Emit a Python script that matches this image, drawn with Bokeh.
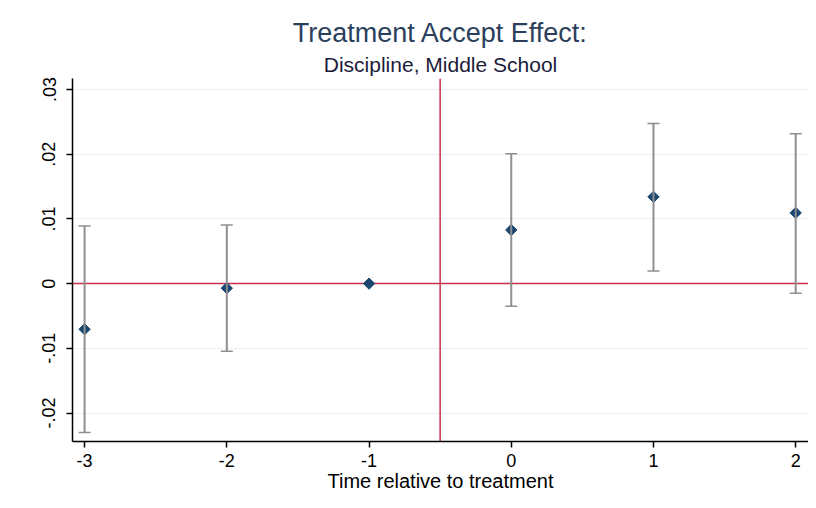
import math
from bokeh.plotting import figure
from bokeh.models import ColumnDataSource, Whisker, TeeHead, Span, Title, FixedTicker, Range1d
from bokeh.embed import file_html
from bokeh.resources import INLINE

# ---- data ----
periods = [-3, -2, -1, 0, 1, 2]
coef = [-0.00705, -0.0007, 0.0, 0.00829, 0.01341, 0.01093]
ci_lo = [-0.0230, -0.01047, None, -0.00349, 0.00194, -0.00147]
ci_hi = [0.00891, 0.00907, None, 0.02008, 0.02473, 0.02318]
y_ticks = [-0.02, -0.01, 0.0, 0.01, 0.02, 0.03]
y_tick_labels = ["-.02", "-.01", "0", ".01", ".02", ".03"]
x_ticks = [-3, -2, -1, 0, 1, 2]
x_tick_labels = ["-3", "-2", "-1", "0", "1", "2"]
title_text = "Treatment Accept Effect:"
subtitle_text = "Discipline, Middle School"
x_label = "Time relative to treatment"
treat_line = -0.5

FONT = "Liberation Sans"

p = figure(width=808, height=500, output_backend="svg", toolbar_location=None,
           x_range=Range1d(-3.085, 2.09), y_range=Range1d(-0.0244, 0.0317),
           min_border_left=72, min_border_right=0, min_border_top=78, min_border_bottom=59)
p.outline_line_color = None
p.background_fill_color = "white"
p.border_fill_color = "white"

# titles
p.add_layout(Title(text=subtitle_text, align="center", text_font=FONT, text_font_size="21px",
                   text_font_style="normal", text_color="#1c1c3a", standoff=6), "above")
p.add_layout(Title(text=title_text, align="center", text_font=FONT, text_font_size="27px",
                   text_font_style="normal", text_color="#2b3f5c", standoff=0), "above")

# grid
p.xgrid.grid_line_color = None
p.ygrid.grid_line_color = "#e8f0f2"
p.ygrid.grid_line_width = 1
p.ygrid.ticker = FixedTicker(ticks=y_ticks)

# axes
for ax in (p.xaxis[0], p.yaxis[0]):
    ax.axis_line_color = "black"
    ax.axis_line_width = 1.5
    ax.major_tick_line_color = "black"
    ax.major_tick_line_width = 1.5
    ax.major_tick_out = 6
    ax.major_tick_in = 0
    ax.minor_tick_line_color = None
    ax.major_label_text_font = FONT
    ax.major_label_text_font_size = "18px"
    ax.major_label_text_color = "black"

p.xaxis.ticker = FixedTicker(ticks=x_ticks)
p.xaxis.major_label_overrides = {t: l for t, l in zip(x_ticks, x_tick_labels)}
p.xaxis.major_label_standoff = 6
p.xaxis.axis_label = x_label
p.xaxis.axis_label_text_font = FONT
p.xaxis.axis_label_text_font_size = "20px"
p.xaxis.axis_label_text_font_style = "normal"
p.xaxis.axis_label_text_color = "black"
p.xaxis.axis_label_standoff = 0

p.yaxis.ticker = FixedTicker(ticks=y_ticks)
p.yaxis.major_label_overrides = {t: l for t, l in zip(y_ticks, y_tick_labels)}
p.yaxis.major_label_orientation = "vertical"
p.yaxis.major_label_standoff = 11

# reference lines
p.add_layout(Span(location=0, dimension="width", line_color="#c8304f", line_width=1.5, level="underlay"))
p.add_layout(Span(location=treat_line, dimension="height", line_color="#c8304f", line_width=1.5, level="underlay"))

# confidence intervals
idx = [i for i in range(len(periods)) if ci_lo[i] is not None]
ci_src = ColumnDataSource(dict(x=[periods[i] for i in idx],
                               lo=[ci_lo[i] for i in idx],
                               hi=[ci_hi[i] for i in idx]))
w = Whisker(source=ci_src, base="x", lower="lo", upper="hi", dimension="height",
            line_color="#8f8f8f", line_width=2,
            lower_head=TeeHead(size=12, line_color="#8f8f8f", line_width=1.5),
            upper_head=TeeHead(size=12, line_color="#8f8f8f", line_width=1.5),
            level="glyph")
p.add_layout(w)

# point estimates
pt_src = ColumnDataSource(dict(x=periods, y=coef))
p.scatter("x", "y", source=pt_src, marker="square", angle=math.pi / 4, size=8,
          color="#1a476f", line_color="#1a476f")

open("out.html", "w").write(file_html(p, INLINE))
